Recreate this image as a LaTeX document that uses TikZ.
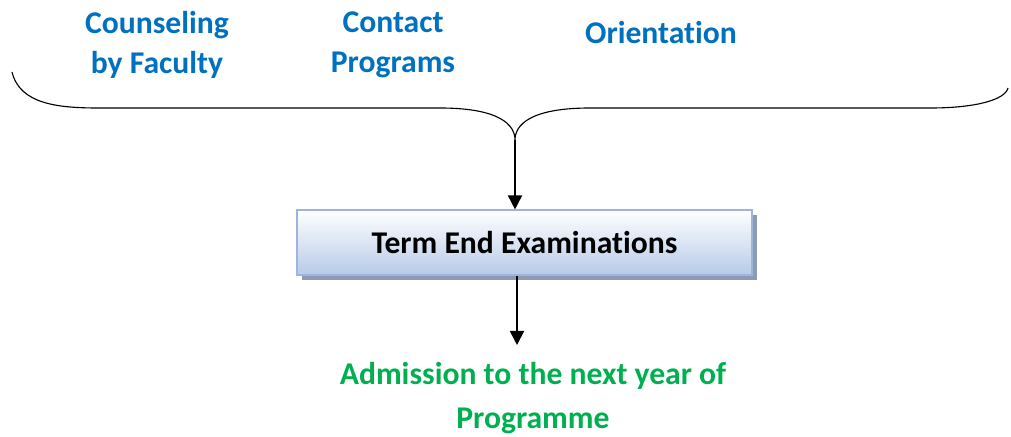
\documentclass[tikz,border=0pt]{standalone}
\usepackage{fontspec}
\setmainfont[Ligatures={NoCommon}]{Carlito}
\usetikzlibrary{arrows.meta,positioning,shadows}
\definecolor{headblue}{HTML}{0070C0}
\definecolor{outgreen}{HTML}{00B050}
\definecolor{boxline}{HTML}{9DB5DE}
\definecolor{boxfill}{HTML}{B7CAE8}
\definecolor{boxshadow}{HTML}{8E9AB0}
\tikzset{head/.style={text=headblue, font=\fontsize{22.5}{28.4}\selectfont\bfseries, align=center},
  outcome/.style={text=outgreen, font=\fontsize{22.5}{31.2}\selectfont\bfseries, align=center},
  exambox/.style={draw=boxline, thick, rectangle, minimum width=455*0.025cm, minimum height=65*0.025cm, top color=white, bottom color=boxfill, font=\fontsize{22.5}{24}\selectfont\bfseries, drop shadow={shadow xshift=5*0.025cm, shadow yshift=-5*0.025cm, fill=boxshadow, opacity=1}},
  flow/.style={-{Triangle[length=10pt,width=10pt]}, very thick}}

\begin{document}
\begin{tikzpicture}[x=0.025cm, y=-0.025cm]
    \useasboundingbox (0,0) rectangle (1011,436);
    \node[head] (C1) at (157,45) {Counseling\\by Faculty};
    \node[head] (C2) at (393,45) {Contact\\Programs};
    \node[head] (C3) at (661,33) {Orientation};
    % brace
    \draw[thick] (12,72) .. controls (20,105) and (60,108) .. (100,108) -- (440,108) .. controls (500,108) and (515,125) .. (515,140) .. controls (515,125) and (530,108) .. (590,108) -- (930,108) .. controls (975,108) and (1005,100) .. (1008,88);
    \coordinate (tip) at (515,140);
    \node[exambox] (TEE) at (524.5,242.5) {Term End Examinations};
    \node[outcome] (ADM) at (533,398) {Admission to the next year of\\Programme};
    \draw[flow] (tip) -- (tip |- TEE.north);
    \draw[flow] (TEE.south -| 517,0) -- (517,345);
\end{tikzpicture}
\end{document}
